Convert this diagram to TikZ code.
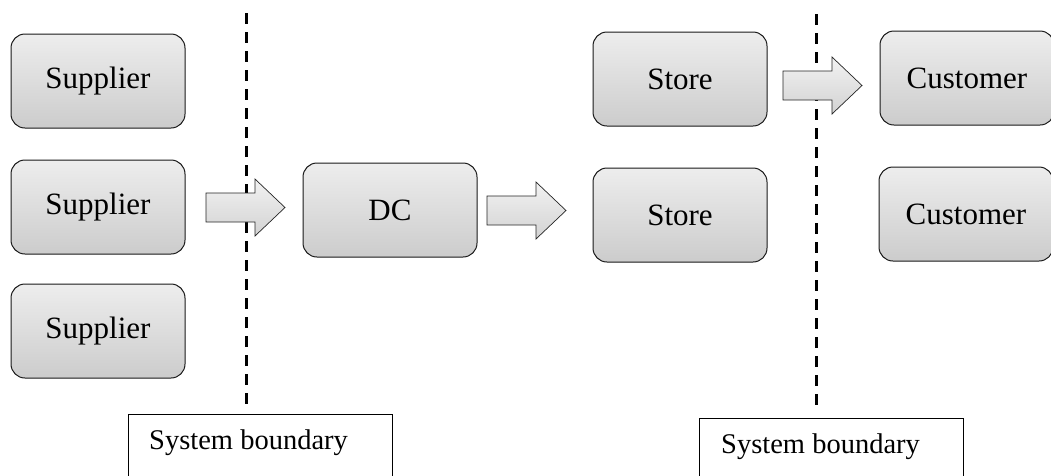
\documentclass[tikz,border=0pt]{standalone}
\usepackage{fontspec}
\setmainfont{Liberation Serif}
\begin{document}
\begin{tikzpicture}[x=1pt,y=-1pt,
  entity/.style={draw=black!90, line width=1pt, rounded corners=14pt,
    top color=gray!14, bottom color=gray!40,
    minimum width=174pt, minimum height=94pt, inner sep=0pt,
    font=\fontsize{31}{35}\selectfont},
  boundarybox/.style={draw=black, line width=0.8pt, fill=white,
    minimum width=264pt, minimum height=80pt, anchor=north west,
    inner sep=0pt},
  boundarylabel/.style={anchor=west, inner sep=0pt,
    font=\fontsize{28.5}{32}\selectfont},
  boundaryline/.style={line width=3pt, dash pattern=on 11pt off 8pt},
  flow/.pic={
    \draw[draw=black!85, line width=0.7pt, top color=gray!10, bottom color=gray!35]
      (0,-14.5) -- (49,-14.5) -- (49,-28.5) -- (79,0) -- (49,28.5)
      -- (49,14.5) -- (0,14.5) -- cycle;
  }]
\useasboundingbox (0,0) rectangle (1051,475);

% system boundaries
\draw[boundaryline] (246,13) -- (246,407);
\draw[boundaryline] (816,14) -- (816,407);
\node[boundarybox] (b1) at (128,414) {};
\node[boundarylabel] (b1t) at (149,443) {System boundary};
\node[boundarybox] (b2) at (699,418) {};
\node[boundarylabel] (b2t) at (721,447) {System boundary};

% supply chain members
\node[entity] (s1) at (98,81) {Supplier};
\node[entity] (s2) at (98,207) {Supplier};
\node[entity] (s3) at (98,331) {Supplier};
\node[entity] (dc) at (390,210) {DC};
\node[entity] (st1) at (680,79) {Store};
\node[entity] (st2) at (680,215) {Store};
\node[entity] (c1) at (967,78) {Customer};
\node[entity] (c2) at (966,214) {Customer};

% flows
\pic at (206,207.5) {flow};
\pic at (487,210.5) {flow};
\pic at (783,85.5) {flow};
\end{tikzpicture}
\end{document}
